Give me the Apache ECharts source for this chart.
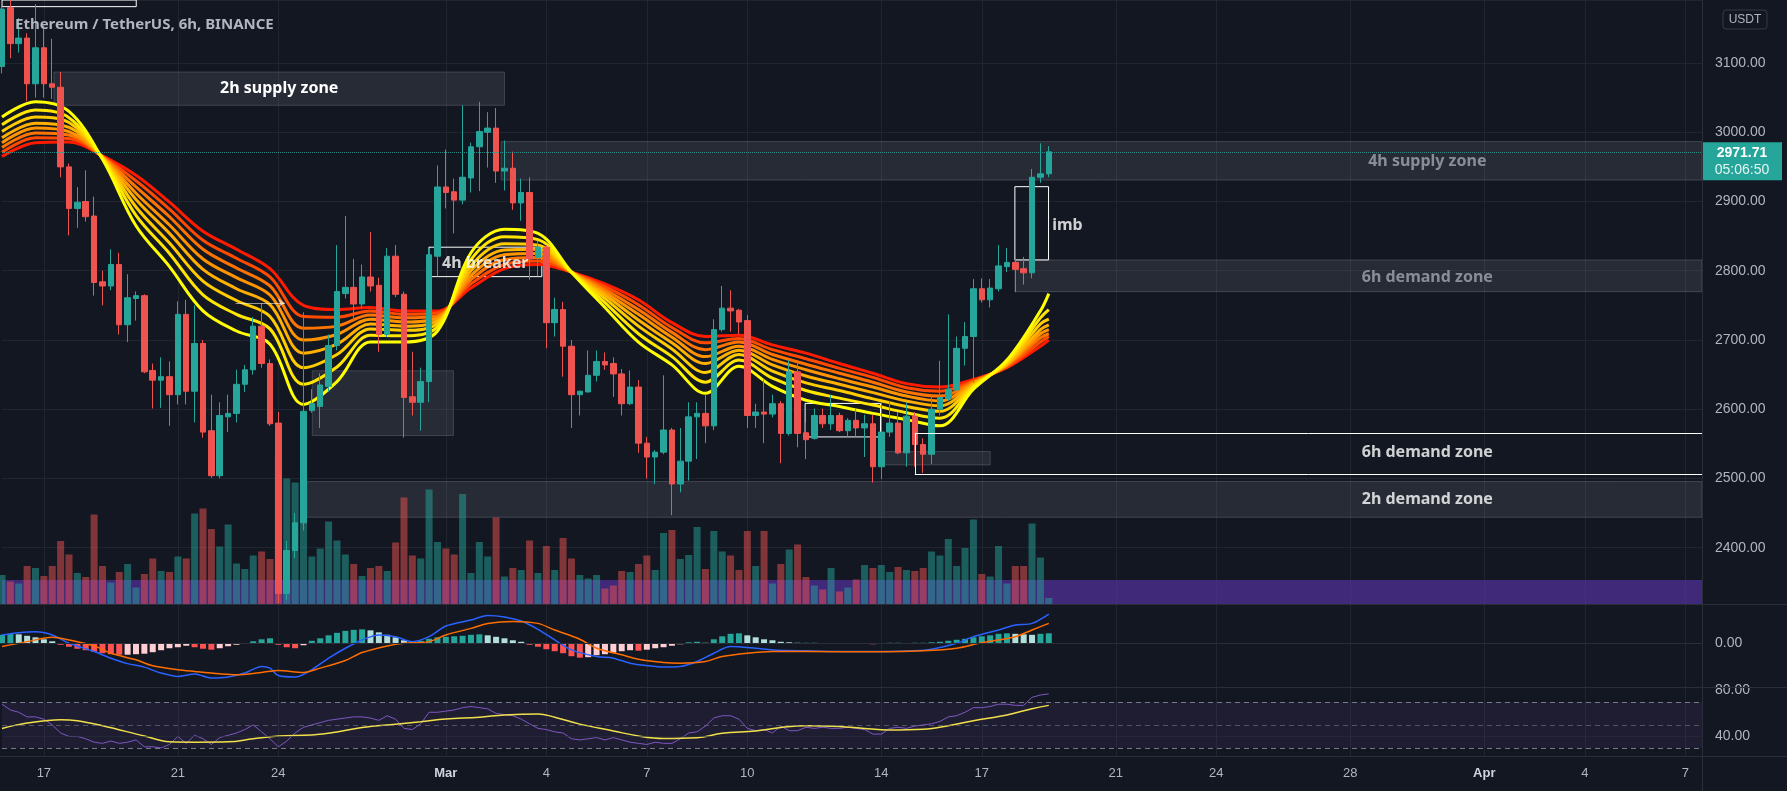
<!DOCTYPE html>
<html><head><meta charset="utf-8">
<script src="https://cdn.jsdelivr.net/npm/echarts@6/dist/echarts.min.js"></script>
<style>html,body{margin:0;padding:0;background:#131722;overflow:hidden}#c{width:1787px;height:791px}</style>
</head><body><div id="c"></div>
<script>
// ---------- DATA (6h candles, ETH/USDT Binance, from Feb 15 18:00) ----------
const open = [3095,3180,3128,3136,3070,3122,3070,3065,2950,2890, 2900,2879,2784,2778,2809,2722,2760,2764,2656,2642, 2647,2621,2737,2626,2695,2569,2504,2589,2594,2636, 2657,2720,2666,2580,2334,2396,2436,2598,2604,2633, 2692,2767,2776,2752,2791,2779,2708,2821,2766,2618, 2610,2640,2821,2921,2914,2902,2934,2979,3000,3006, 2944,2948,2898,2913,2819,2834,2725,2744,2691,2621, 2625,2649,2669,2666,2651,2608,2632,2551,2531,2538, 2570,2492,2525,2589,2594,2576,2715,2746,2743,2728, 2591,2596,2593,2608,2565,2654,2566,2558,2591,2579, 2591,2569,2584,2573,2579,2517,2567,2580,2537,2590, 2549,2535,2600,2615,2628,2688,2705,2774,2758,2774, 2806,2812,2803,2797,2935,2940];
const close = [3178,3128,3136,3070,3122,3070,3065,2950,2890,2899, 2878,2783,2778,2809,2722,2761,2764,2654,2642,2647, 2621,2737,2626,2695,2567,2504,2591,2594,2636,2657, 2720,2666,2579,2334,2396,2436,2597,2608,2635,2692, 2770,2776,2752,2791,2778,2708,2821,2766,2617,2610, 2640,2823,2921,2913,2902,2935,2979,3001,3006,2944, 2948,2898,2913,2817,2834,2725,2744,2691,2621,2626, 2649,2669,2664,2651,2608,2632,2551,2531,2538,2570, 2492,2525,2589,2594,2576,2715,2746,2742,2726,2591, 2596,2593,2608,2565,2654,2565,2556,2591,2579,2591, 2569,2584,2573,2579,2517,2567,2580,2537,2590,2549, 2535,2600,2617,2629,2688,2705,2774,2758,2775,2807, 2812,2802,2797,2935,2940,2971.71];
const low = [3085,3107,3115,3045,3050,3050,3048,2935,2851,2862, 2871,2764,2750,2772,2708,2697,2728,2652,2601,2602, 2576,2607,2607,2581,2559,2501,2500,2567,2581,2625, 2650,2660,2576,2320,2325,2385,2425,2595,2573,2625, 2685,2760,2728,2745,2770,2683,2704,2762,2559,2591, 2569,2610,2792,2890,2854,2896,2913,2915,2949,2927, 2916,2888,2872,2787,2792,2688,2705,2647,2573,2591, 2624,2640,2657,2618,2591,2606,2537,2500,2492,2535, 2447,2480,2497,2528,2551,2570,2712,2712,2708,2573, 2573,2551,2588,2522,2562,2545,2528,2556,2573,2570, 2567,2560,2560,2531,2494,2499,2560,2535,2517,2517, 2508,2521,2591,2612,2627,2663,2638,2754,2747,2770, 2798,2769,2780,2789,2927,2935];
const high = [3195,3192,3165,3143,3185,3154,3135,3087,2955,2921, 2945,2907,2800,2831,2826,2795,2770,2766,2666,2675, 2669,2756,2758,2750,2700,2621,2610,2621,2657,2664, 2733,2753,2672,2596,2410,2450,2740,2629,2652,2708, 2837,2879,2817,2809,2856,2790,2833,2837,2770,2683, 2660,2832,2952,2975,2933,3039,2985,3044,3029,3035, 2988,2972,2933,2935,2843,2837,2761,2755,2700,2627, 2685,2685,2682,2675,2658,2656,2642,2560,2541,2649, 2573,2573,2610,2610,2621,2730,2778,2772,2745,2736, 2608,2643,2621,2612,2671,2671,2581,2601,2601,2621, 2595,2587,2601,2592,2592,2610,2612,2596,2610,2596, 2558,2621,2670,2737,2705,2726,2788,2789,2788,2837, 2833,2818,2820,2947,2984,2980];
const volume = [59,46,42,77,73,57,77,127,100,63, 55,180,77,44,65,81,34,61,92,67, 65,96,92,182,192,151,116,160,82,71, 98,106,91,300,252,244,180,96,112,166, 128,100,81,57,73,77,67,124,214,98, 92,230,125,112,100,221,63,125,96,174, 56,73,69,128,63,117,69,133,92,59, 52,59,32,38,67,65,81,98,69,143, 149,91,99,155,71,147,106,98,69,147, 77,147,42,81,110,120,55,38,30,73, 26,34,50,79,73,79,65,75,69,67, 73,106,98,131,77,113,170,61,56,117, 42,77,77,162,94,13];

// EMA ribbon read at daily points (bar index)
const ribbonX = [0,4,8,12,16,20,24,28,32,36,40,44,48,52,56,60,64,68,72,76,80,84,88,92,96,100,104,108,112,116,120,124,125];
const ribbon1 = [3022,3044,3030,2961,2865,2806,2742,2713,2694,2607,2640,2697,2697,2713,2826,2860,2854,2798,2747,2697,2664,2623,2662,2633,2613,2604,2594,2585,2576,2629,2671,2742,2767];
const ribbon2 = [3011,3032,3021,2962,2880,2825,2765,2737,2716,2636,2661,2707,2706,2719,2816,2849,2845,2798,2754,2709,2676,2639,2671,2645,2627,2616,2606,2595,2587,2632,2669,2732,2744];
const ribbon3 = [3001,3022,3014,2963,2892,2840,2785,2757,2734,2660,2679,2716,2714,2724,2807,2839,2837,2798,2760,2720,2687,2653,2679,2655,2638,2627,2615,2604,2597,2634,2667,2723,2730];
const ribbon4 = [2992,3013,3007,2964,2903,2854,2802,2774,2751,2681,2694,2723,2720,2728,2800,2830,2831,2798,2765,2729,2696,2666,2685,2664,2648,2636,2624,2612,2605,2636,2665,2715,2722];
const ribbon5 = [2985,3006,3001,2964,2912,2866,2817,2790,2765,2700,2708,2730,2726,2732,2793,2823,2825,2798,2769,2737,2704,2676,2691,2672,2657,2644,2632,2619,2612,2638,2664,2709,2715];
const ribbon6 = [2978,2999,2996,2965,2921,2878,2831,2804,2778,2717,2720,2736,2732,2735,2787,2816,2819,2798,2773,2744,2711,2686,2697,2679,2665,2652,2639,2625,2619,2640,2663,2703,2709];
const ribbon7 = [2971,2992,2991,2965,2930,2889,2844,2818,2791,2734,2733,2742,2737,2739,2781,2809,2814,2798,2777,2751,2718,2696,2702,2686,2673,2659,2646,2631,2626,2641,2661,2697,2705];
const ribbon8 = [2965,2985,2986,2966,2938,2899,2857,2831,2803,2750,2744,2747,2742,2742,2775,2803,2809,2798,2781,2758,2725,2705,2707,2693,2681,2666,2652,2637,2632,2643,2660,2691,2700];

// MACD
const macdHist = [17,19,18,15,12,8,4,-3,-7,-11, -14,-17,-20,-22,-23,-23,-22,-21,-18,-14, -10,-8,-5,-8,-11,-13,-10,-6,-3,-1, 4,8,10,-3,-8,-10,-4,5,10,16, 21,25,27,28,26,22,17,12,6,3, 5,9,12,13,14,15,17,18,16,13, 10,6,3,-3,-7,-12,-16,-20,-26,-29, -28,-24,-22,-19,-16,-14,-15,-13,-10,-8, -5,-2,2,3,1,8,14,19,20,16, 12,8,6,3,2,1,1,1,-1,-1, -1,0.5,-1,-1,-2,-1,1,1,0.5,1, 1,2,3,5,7,9,12,14,16,19, 20,19,18,17,19,20];
const macdX = [0,2,4,6,8,11,13,15,17,19,21,23,25,27,29,31,32,33,35,37,39,41,43,45,47,49,51,53,56,58,60,62,64,66,68,71,73,75,77,79,81,83,85,87,90,92,96,100,105,109,111,114,116,119,121,123,125];
const macdLine = [16.7,21,23,16.7,0,-16.7,-30,-41,-48,-60,-66.7,-62,-70,-68,-60,-46.7,-50,-65,-68,-53,-30,-10,6.7,16.7,13.3,3.3,13.3,34.7,46.7,56,53,44.7,28,6.7,-13.3,-26.7,-30,-40,-45,-48,-46.7,-36.7,-20,-6.7,-10,-13.3,-15.3,-16.7,-16.7,-15.3,-12,0,13.3,26.7,36.7,40,58.7];
const signalX = [0,3,6,8,11,13,16,18,21,23,26,28,31,33,36,38,41,43,46,48,51,53,56,58,61,64,66,69,71,74,76,79,81,84,86,89,92,96,105,110,114,117,121,123,125];
const signalLine = [-6.7,3.3,12,6.7,-5.3,-20,-33.3,-45.3,-53.3,-56.7,-61.3,-63.3,-58.7,-54.7,-58.7,-50,-34.7,-18.7,-5.3,0,3.3,16.7,30,40,44,40,26.7,8,-10,-23.3,-32,-38.7,-40,-36.7,-26.7,-20,-16.7,-16.7,-17.3,-15.3,-10,1.3,13.3,26.7,40];

// RSI
const rsi = [68,63,61,57,57,55,50,43,40,40, 38,35,34,36,34,35,37,31,31,30, 33,40,34,41,38,33,39,41,43,46, 50,44,38,31,36,43,48,50,52,54, 55,56,57,57,56,54,58,55,47,46, 51,61,61,62,63,65,66,65,64,60, 59,58,55,51,47,46,44,43,38,37, 38,39,37,39,37,35,34,33,35,34, 34,38,43,44,49,56,58,58,55,47, 45,46,43,49,45,45,48,47,48,47, 47,48,47,46,42,42,47,48,47,49, 50,51,53,57,58,61,65,65,66,68, 68,67,67,74,76,77];
const rsiMaX = [0,3,7,9,12,17,20,23,27,30,33,37,40,43,47,50,53,57,60,64,66,69,73,76,79,83,86,90,93,96,100,103,106,110,113,116,120,123,125];
const rsiMa = [46.9,51.6,54.6,53.7,49.3,40.4,35.3,35,35.3,38,40.4,41.3,43.9,47.8,50.7,52.8,55.2,56.7,58.7,59.6,56.7,50.7,44.8,40.4,38.3,38.9,42.7,44.8,47.8,49.3,48.7,46.9,45.7,46.3,49.3,53.7,58.7,64.1,67];

// Axis ticks
const dateTickIdx = [5,21,33,53,65,77,89,105,117,133,145,161,177,189,201];
const dateTickLbl = ['17','21','24','Mar','4','7','10','14','17','21','24','28','Apr','4','7'];
const countdown = '05:06:50';

// Drawn zones (bar index, price)
const greyZones = [
  {x0:6.2, x1:60.0, top:3087, bottom:3039, text:'2h supply zone'},
  {x0:59.6, x1:203, top:2986.5, bottom:2931},
  {x0:120.95, x1:203, top:2815.6, bottom:2769.8},
  {x0:36.4, x1:203, top:2495.5, bottom:2444},
  {x0:37.05, x1:53.9, top:2655.5, bottom:2562},
  {x0:105.3, x1:118, top:2539, bottom:2519.6}
];
const outlineBoxes = [
  {x0:120.95, x1:124.97, top:2921.4, bottom:2815.6},
  {x0:50.98, x1:64.46, top:2834, bottom:2791.5},
  {x0:95.9, x1:104.9, top:2608.4, bottom:2560},
  {x0:-1, x1:16.03, top:3260, bottom:3181.4}
];
const openBox = {x0:109.0, x1:203, top:2565.3, bottom:2506.6};
const zoneLabels = [
  {x:170.2, y:2958, text:'4h supply zone', color:'#a3a6af', align:'center'},
  {x:170.2, y:2791, text:'6h demand zone', color:'#a3a6af', align:'center'},
  {x:170.2, y:2537, text:'6h demand zone', color:'#ffffff', align:'center'},
  {x:170.2, y:2470, text:'2h demand zone', color:'#ffffff', align:'center'},
  {x:57.7, y:2811, text:'4h breaker', color:'#ffffff', align:'center'},
  {x:125.4, y:2866, text:'imb', color:'#ffffff', align:'left'}
];
const arrowLine = {x0:27.9, x1:33.8, y:2753.5};

// ---------- BUILD ----------
const SLOTS = 204;
const startUTC = Date.UTC(2022,1,15,18);
const categories = [];
for (let i=0;i<SLOTS;i++){ categories.push(new Date(startUTC+i*21600000).toISOString().slice(5,16).replace('T',' ')); }
const lastCat = SLOTS-1;
const tickMap = new Map(dateTickIdx.map((d,i)=>[d,dateTickLbl[i]]));
const tickFn = (i)=>tickMap.has(i);

const candleData = open.map((o,i)=>[o, close[i], low[i], high[i]]);
const volData = volume.map((v,i)=>({value:v, itemStyle:{color: close[i]>=open[i] ? 'rgba(38,166,154,0.5)' : 'rgba(239,83,80,0.5)'}}));
const histData = macdHist.map((v,i)=>{
  const p = i>0 ? macdHist[i-1] : v;
  let c;
  if (v>=0) c = v>=p ? '#26a69a' : '#b2dfdb'; else c = v<p ? '#ff5252' : '#ffcdd2';
  return {value:v, itemStyle:{color:c}};
});
const lastClose = close[close.length-1];

const FONT = 'Liberation Sans, Arial, sans-serif';
const GRID_COL = 'rgba(42,46,57,0.6)';
const AXIS_TXT = '#b2b5be';
const LABEL_FONT = {fontSize:16, fontWeight:'bold', fontFamily:'Noto Sans'};

const ribbons = [ribbon8, ribbon7, ribbon6, ribbon5, ribbon4, ribbon3, ribbon2, ribbon1];
const ribbonColors = ['#ff1a00','#ff4a00','#ff7400','#ff9400','#ffb000','#ffcc00','#ffe600','#ffff00'];
const ribbonSeries = ribbons.map((arr,k)=>({
  type:'line', xAxisIndex:1, yAxisIndex:0, z:3, silent:true, showSymbol:false, smooth:0.35,
  data: ribbonX.map((x,j)=>[x, arr[j]]),
  lineStyle:{color:ribbonColors[k], width:3}
}));

const zoneAreas = greyZones.map(z=>[
  {xAxis:z.x0, yAxis:z.top, label: z.text ? Object.assign({show:true, position:'inside', formatter:z.text, color:'#ffffff'}, LABEL_FONT) : {show:false}},
  {xAxis:z.x1, yAxis:z.bottom}
]);
const outlineAreas = outlineBoxes.map(z=>[{xAxis:z.x0, yAxis:z.top},{xAxis:z.x1, yAxis:z.bottom}]);
const openBoxLines = [
  [{coord:[openBox.x0, openBox.top], symbol:'none'},{coord:[openBox.x1, openBox.top], symbol:'none'}],
  [{coord:[openBox.x0, openBox.bottom], symbol:'none'},{coord:[openBox.x1, openBox.bottom], symbol:'none'}],
  [{coord:[openBox.x0, openBox.top], symbol:'none'},{coord:[openBox.x0, openBox.bottom], symbol:'none'}]
];

const option = {
  backgroundColor:'#131722',
  animation:false,
  title:{text:'Ethereum / TetherUS, 6h, BINANCE', left:10, top:12, textStyle:{color:AXIS_TXT, fontSize:15, fontWeight:'bold', fontFamily:'Noto Sans'}},
  grid:[
    {left:2, right:85, top:0, height:604.5},
    {left:2, right:85, top:605, height:82},
    {left:2, right:85, top:688, height:68}
  ],
  xAxis:[
    {type:'category', gridIndex:0, data:categories, boundaryGap:false, axisLine:{show:false}, axisTick:{show:false}, axisLabel:{show:false}, splitLine:{show:true, interval:tickFn, lineStyle:{color:GRID_COL}}},
    {type:'value', gridIndex:0, min:0, max:lastCat, show:false},
    {type:'category', gridIndex:1, data:categories, boundaryGap:false, axisLine:{show:false}, axisTick:{show:false}, axisLabel:{show:false}, splitLine:{show:true, interval:tickFn, lineStyle:{color:GRID_COL}}},
    {type:'category', gridIndex:2, data:categories, boundaryGap:false, axisLine:{show:false}, axisTick:{show:false},
      axisLabel:{show:true, interval:tickFn, margin:11, color:AXIS_TXT, fontSize:13, fontFamily:FONT,
        formatter:(v,i)=>{const t=tickMap.get(i)||''; return (t==='Mar'||t==='Apr') ? '{b|'+t+'}' : t;},
        rich:{b:{fontWeight:'bold', color:'#d1d4dc', fontSize:13, fontFamily:FONT}}},
      splitLine:{show:true, interval:tickFn, lineStyle:{color:GRID_COL}}}
  ],
  yAxis:[
    {type:'value', gridIndex:0, position:'right', min:2318, max:3191, minInterval:100, maxInterval:100, splitNumber:9,
      axisLine:{show:false}, axisTick:{show:false},
      axisLabel:{margin:13, color:AXIS_TXT, fontSize:14, fontFamily:FONT, formatter:v=> (Math.abs(v%100)<1e-6 ? v.toFixed(2) : '')},
      splitLine:{show:true, lineStyle:{color:GRID_COL}}},
    {type:'value', gridIndex:0, min:0, max:1209, show:false},
    {type:'value', gridIndex:1, position:'right', min:-88, max:77, axisLine:{show:false}, axisTick:{show:false},
      axisLabel:{margin:13, color:AXIS_TXT, fontSize:14, fontFamily:FONT, formatter:v=> (v===0 ? '0.00' : '')}, splitLine:{show:false}},
    {type:'value', gridIndex:2, position:'right', min:23, max:82.1, axisLine:{show:false}, axisTick:{show:false},
      axisLabel:{margin:13, color:AXIS_TXT, fontSize:14, fontFamily:FONT, formatter:v=> ((v===40||v===80) ? v.toFixed(2) : '')}, splitLine:{show:false}}
  ],
  series:[
    {name:'Volume', type:'bar', xAxisIndex:0, yAxisIndex:1, z:1, silent:true, barWidth:7, data:volData},
    {name:'band', type:'line', xAxisIndex:1, yAxisIndex:0, z:2, silent:true, data:[],
      markArea:{silent:true, itemStyle:{color:'rgba(90,50,170,0.65)'}, data:[[{xAxis:-1, yAxis:2318},{xAxis:lastCat, yAxis:2353.4}]]}},
    {name:'zones', type:'line', xAxisIndex:1, yAxisIndex:0, z:2, silent:true, data:[],
      markArea:{silent:true, itemStyle:{color:'rgba(120,123,134,0.2)', borderColor:'rgba(120,123,134,0.4)', borderWidth:1}, data:zoneAreas}},
    {name:'boxes', type:'line', xAxisIndex:1, yAxisIndex:0, z:5, silent:true, data:[],
      markArea:{silent:true, itemStyle:{color:'rgba(0,0,0,0)', borderColor:'#ffffff', borderWidth:1}, data:outlineAreas},
      markLine:{silent:true, symbol:'none', label:{show:false}, lineStyle:{color:'#ffffff', width:1, type:'solid'}, data:openBoxLines},
      markPoint:{silent:true, data:[{coord:[lastCat, lastClose], symbol:'rect', symbolSize:[80,38], symbolOffset:[40,9.5], itemStyle:{color:'#26a69a'},
        label:{show:true, position:'inside', formatter:'{a|'+lastClose.toFixed(2)+'}\n{b|'+countdown+'}',
          rich:{a:{color:'#ffffff', fontWeight:'bold', fontSize:14, lineHeight:17, fontFamily:FONT}, b:{color:'#e6f4f2', fontSize:14, lineHeight:17, fontFamily:FONT}}}}]}},
    {name:'arrow', type:'line', xAxisIndex:1, yAxisIndex:0, z:5, silent:true, data:[],
      markLine:{silent:true, symbol:['none','arrow'], symbolSize:7, label:{show:false}, lineStyle:{color:'rgba(255,255,255,0.55)', width:1, type:'solid'},
        data:[[{coord:[arrowLine.x0, arrowLine.y]},{coord:[arrowLine.x1, arrowLine.y]}]]}},
    ...ribbonSeries,
    {name:'ETHUSDT', type:'candlestick', xAxisIndex:0, yAxisIndex:0, z:4, barWidth:6, silent:true, data:candleData,
      itemStyle:{color:'#26a69a', color0:'#ef5350', borderColor:'#26a69a', borderColor0:'#ef5350', borderWidth:1},
      markLine:{silent:true, symbol:'none', label:{show:false}, lineStyle:{color:'#26a69a', type:'dotted', width:1, opacity:0.8}, data:[{yAxis:lastClose}]}},
    {name:'labels', type:'scatter', xAxisIndex:1, yAxisIndex:0, z:6, silent:true, symbolSize:0,
      data: zoneLabels.map(l=>({value:[l.x, l.y], label:Object.assign({show:true, position:'inside', formatter:l.text, color:l.color, align:l.align}, LABEL_FONT)}))},
    {name:'Hist', type:'bar', xAxisIndex:2, yAxisIndex:2, z:2, silent:true, barWidth:6, data:histData,
      markLine:{silent:true, symbol:'none', label:{show:false}, lineStyle:{color:'#2a2e39', type:'solid', width:1}, data:[{yAxis:0}]}},
    {name:'MACD', type:'line', xAxisIndex:2, yAxisIndex:2, z:3, silent:true, showSymbol:false, smooth:0.3, data:macdX.map((x,j)=>[x, macdLine[j]]), lineStyle:{color:'#2962ff', width:1.5}},
    {name:'Signal', type:'line', xAxisIndex:2, yAxisIndex:2, z:3, silent:true, showSymbol:false, smooth:0.3, data:signalX.map((x,j)=>[x, signalLine[j]]), lineStyle:{color:'#ff6d00', width:1.5}},
    {name:'RSI', type:'line', xAxisIndex:3, yAxisIndex:3, z:3, silent:true, showSymbol:false, data:rsi, lineStyle:{color:'#7e57c2', width:1},
      markArea:{silent:true, itemStyle:{color:'rgba(126,87,194,0.1)'}, data:[[{yAxis:30},{yAxis:70}]]},
      markLine:{silent:true, symbol:'none', label:{show:false}, data:[
        {yAxis:70, lineStyle:{color:'#787b86', type:[5,4], width:1}},
        {yAxis:50, lineStyle:{color:'rgba(120,123,134,0.6)', type:[5,4], width:1}},
        {yAxis:30, lineStyle:{color:'#787b86', type:[5,4], width:1}},
        {yAxis:40, lineStyle:{color:GRID_COL, type:'solid', width:1}}
      ]}},
    {name:'RSI MA', type:'line', xAxisIndex:3, yAxisIndex:3, z:3, silent:true, showSymbol:false, smooth:0.4, data:rsiMaX.map((x,j)=>[x, rsiMa[j]]), lineStyle:{color:'#f2e04b', width:1.5}}
  ],
  graphic:[
    {type:'line', silent:true, z:100, shape:{x1:0,y1:604.5,x2:1787,y2:604.5}, style:{stroke:'#2a2e39', lineWidth:1}},
    {type:'line', silent:true, z:100, shape:{x1:0,y1:687.5,x2:1787,y2:687.5}, style:{stroke:'#2a2e39', lineWidth:1}},
    {type:'line', silent:true, z:100, shape:{x1:0,y1:756.5,x2:1787,y2:756.5}, style:{stroke:'#2a2e39', lineWidth:1}},
    {type:'line', silent:true, z:100, shape:{x1:1702.5,y1:0,x2:1702.5,y2:791}, style:{stroke:'#2a2e39', lineWidth:1}},
    {type:'rect', silent:true, z:100, shape:{x:1723,y:10,width:44,height:19,r:3}, style:{fill:'rgba(0,0,0,0)', stroke:'#363a45', lineWidth:1}},
    {type:'text', silent:true, z:101, x:1745, y:19.5, style:{text:'USDT', fill:AXIS_TXT, font:'12px '+FONT, align:'center', verticalAlign:'middle'}}
  ]
};
const chart = echarts.init(document.getElementById('c'), null, {renderer:'canvas', width:1787, height:791});
chart.setOption(option);
</script>
</body></html>
